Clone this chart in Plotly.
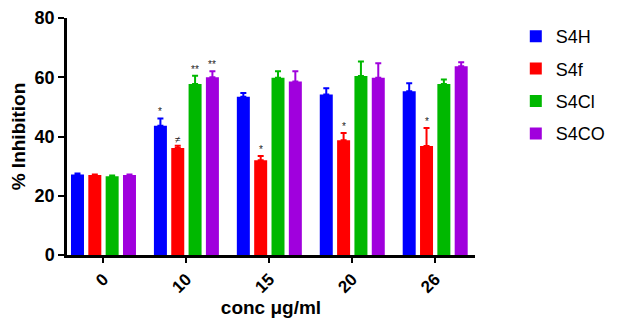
import plotly.graph_objects as go

categories = ["0", "10", "15", "20", "26"]
series_names = ["S4H", "S4f", "S4Cl", "S4CO"]
s4h = [27.2, 43.6, 53.4, 54.2, 55.3]
s4f = [27.0, 36.1, 32.0, 38.7, 36.8]
s4cl = [26.6, 57.7, 59.8, 60.4, 57.7]
s4co = [27.0, 60.0, 58.6, 59.8, 63.7]
s4h_err = [0.3, 2.5, 1.3, 2.1, 2.7]
s4f_err = [0.2, 0.8, 1.4, 2.5, 6.1]
s4cl_err = [0.2, 2.8, 2.2, 4.9, 1.5]
s4co_err = [0.2, 2.0, 3.4, 4.9, 1.4]
colors = ["#0000FF", "#FF0000", "#00B800", "#A000DD"]

# significance marks: (series index, category index, label)
sig_marks = [(0, 1, "*"), (1, 1, "≠"), (2, 1, "**"), (3, 1, "**"),
             (1, 2, "*"), (1, 3, "*"), (1, 4, "*")]

values = [s4h, s4f, s4cl, s4co]
errors = [s4h_err, s4f_err, s4cl_err, s4co_err]

FONT = "Liberation Sans, Arial, sans-serif"

fig = go.Figure()
for i, name in enumerate(series_names):
    fig.add_trace(go.Bar(
        x=categories, y=values[i], name=name,
        marker=dict(color=colors[i], line=dict(width=0)),
        legendgroup=name,
        error_y=dict(type="data", symmetric=False, array=errors[i],
                     arrayminus=[0] * len(categories),
                     color=colors[i], thickness=2, width=3),
    ))

slot_px = 17.3
for si, ci, lab in sig_marks:
    fig.add_annotation(
        x=ci, y=values[si][ci] + errors[si][ci],
        xref="x", yref="y",
        text=lab, showarrow=False, yanchor="bottom",
        xshift=(si - 1.5) * slot_px, yshift=-1,
        font=dict(family=FONT, size=10, color="#222"),
    )

fig.update_layout(
    width=612, height=312,
    margin=dict(l=59, r=145, t=10, b=65, autoexpand=False),
    paper_bgcolor="white", plot_bgcolor="white",
    barmode="group", bargap=0.164, bargroupgap=0.25,
    font=dict(family=FONT, color="black"),
    legend=dict(x=1.10, y=1.0, xanchor="left", yanchor="top",
                font=dict(family=FONT, size=18, color="black"),
                tracegroupgap=6, bgcolor="rgba(0,0,0,0)",
                itemwidth=30),
    xaxis=dict(
        type="category", range=[-0.44, 4.48], automargin=False,
        showline=True, linecolor="black", linewidth=2.5,
        ticks="outside", ticklen=5, tickwidth=2, tickcolor="black",
        tickangle=-45,
        tickfont=dict(family=FONT, size=17, weight="bold"),
        title=dict(text="conc μg/ml", standoff=4,
                   font=dict(family=FONT, size=19, weight="bold")),
        showgrid=False, zeroline=False,
    ),
    yaxis=dict(
        range=[0, 80], tickvals=[0, 20, 40, 60, 80], automargin=False,
        showline=True, linecolor="black", linewidth=2.5,
        ticks="outside", ticklen=6, tickwidth=2, tickcolor="black",
        tickfont=dict(family=FONT, size=18, weight="bold"),
        title=dict(text="% Inhibition", standoff=6,
                   font=dict(family=FONT, size=19, weight="bold")),
        showgrid=False, zeroline=False,
    ),
)

fig.write_html("out.html")
